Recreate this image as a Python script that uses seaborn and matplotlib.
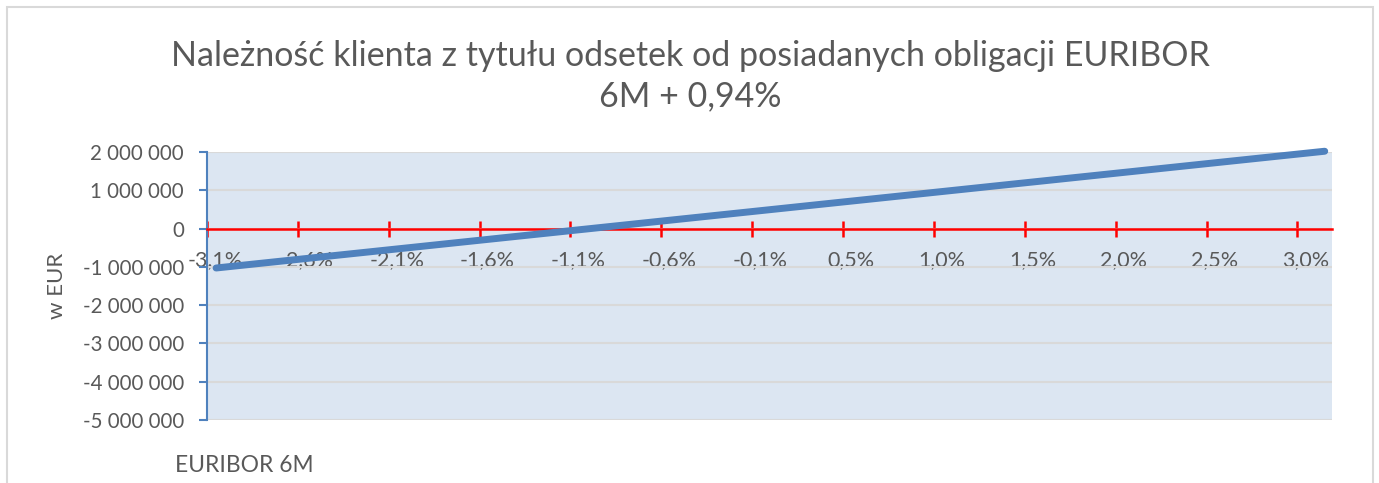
import pandas as pd
import matplotlib
matplotlib.use('Agg')
import matplotlib.pyplot as plt
import matplotlib.transforms as mtransforms
from matplotlib.patches import Rectangle
import seaborn as sns

# EURIBOR 6M level (%) and client's interest receivable (EUR)
euribor_pct = [-3.0, -2.5, -2.0, -1.5, -1.0, -0.5, 0.0, 0.5, 1.0, 1.5, 2.0, 2.5, 3.0, 3.1]
interest_eur = [-1030000, -780000, -530000, -280000, -30000, 220000, 470000,
                720000, 970000, 1220000, 1470000, 1720000, 1970000, 2020000]

x_tick_labels = ['-3,1%', '-2,6%', '-2,1%', '-1,6%', '-1,1%', '-0,6%', '-0,1%',
                 '0,5%', '1,0%', '1,5%', '2,0%', '2,5%', '3,0%']
y_ticks = [2000000, 1000000, 0, -1000000, -2000000, -3000000, -4000000, -5000000]
y_tick_labels = ['2 000 000', '1 000 000', '0', '-1 000 000', '-2 000 000',
                 '-3 000 000', '-4 000 000', '-5 000 000']

title = 'Należność klienta z tytułu odsetek od posiadanych obligacji EURIBOR\n6M + 0,94%'

sns.set_style('white')
plt.rcParams['font.family'] = ['Lato', 'DejaVu Sans']

gray = '#595959'
blue = '#4F81BD'

W, H = 1379, 483
fig = plt.figure(figsize=(W / 100, H / 100), dpi=100)
ax = fig.add_axes([207 / W, 1 - 420 / H, (1332 - 207) / W, (420 - 152) / H])
ax.set_facecolor('#DCE6F2')

df = pd.DataFrame({'EURIBOR': euribor_pct, 'EUR': interest_eur})
sns.lineplot(data=df, x='EURIBOR', y='EUR', ax=ax, color=blue, linewidth=5,
             solid_capstyle='round', zorder=5, clip_on=False)

x_start, x_step = -3.05, 0.5
ax.set_xlim(x_start, 3.14)
ax.set_ylim(-5000000, 2000000)

ax.set_xticks([x_start + x_step * i for i in range(len(x_tick_labels))])
ax.set_xticklabels(x_tick_labels)
ax.set_yticks(y_ticks)
ax.set_yticklabels(y_tick_labels)

ax.yaxis.grid(True, color='#D9D9D9', linewidth=1.5)
ax.set_axisbelow(True)

for s in ['top', 'right']:
    ax.spines[s].set_visible(False)
ax.spines['left'].set_color(blue)
ax.spines['left'].set_linewidth(1.5)
ax.spines['bottom'].set_position(('data', 0))
ax.spines['bottom'].set_color('#FF0000')
ax.spines['bottom'].set_linewidth(1.8)
ax.spines['bottom'].set_zorder(3)

ax.tick_params(axis='x', bottom=True, direction='inout', length=11, width=1.8,
               color='#FF0000', pad=10, labelsize=15.5, labelcolor=gray)
ax.tick_params(axis='y', left=True, direction='out', length=5.5, width=1.5,
               color=blue, pad=11, labelsize=14.8, labelcolor=gray)

shift = mtransforms.ScaledTranslation(8 / 100, 0, fig.dpi_scale_trans)
for lab in ax.get_xticklabels():
    lab.set_transform(lab.get_transform() + shift)

ax.set_xlabel('')
ax.set_ylabel('')
fig.text(57 / W, 1 - 286 / H, 'w EUR', rotation=90, ha='center', va='center',
         fontsize=16, color=gray)
fig.text(175 / W, 1 - 465 / H, 'EURIBOR 6M', ha='left', va='center',
         fontsize=16.4, color=gray)

fig.text(690 / W, 1 - 76 / H, title, ha='center', va='center', fontsize=24.5,
         color=gray, linespacing=1.3)

fig.patches.append(Rectangle((7 / W, -0.05), (1373 - 7) / W, 1.05 - 7 / H,
                             transform=fig.transFigure, fill=False,
                             edgecolor='#D9D9D9', linewidth=1.5))

plt.savefig('out.png', dpi=100)
plt.close()
